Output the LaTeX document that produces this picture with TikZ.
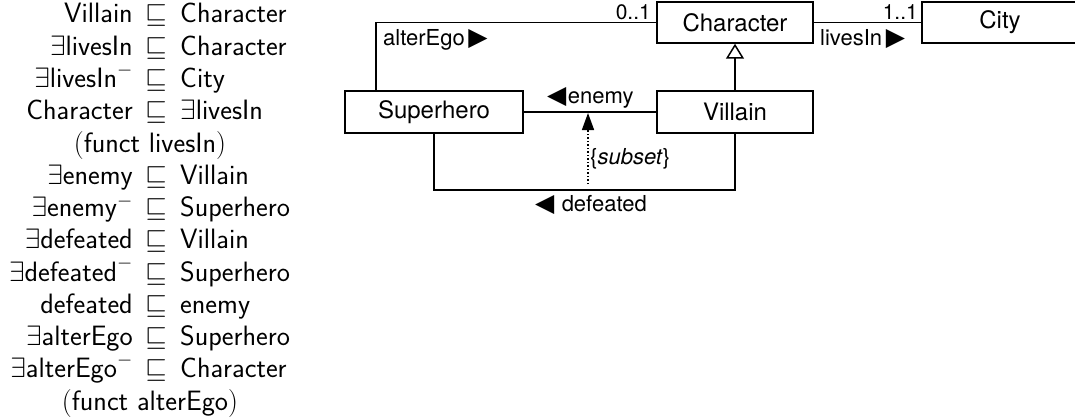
\RequirePackage{fix-cm}
\documentclass[tikz,border=0pt]{standalone}
\usepackage{fontspec}
\newfontfamily\hv{TeX Gyre Heros}
\newfontfamily\dv{DejaVu Sans}
\usetikzlibrary{arrows.meta}
\newcommand\rtri{{\dv\fontsize{25}{25}\selectfont ▶}}
\newcommand\ltri{{\dv\fontsize{25}{25}\selectfont ◀}}
\newcommand\axrow[4]{%
  \node[ax, anchor=base east] (l#1) at (133, {23+32.25*#1}) {$#2$#4};
  \node[ax, anchor=base] (s#1) at (156, {23+32.25*#1}) {$\sqsubseteq$};
  \node[ax, anchor=base west] (r#1) at (180, {23+32.25*#1}) {$#3$};
}
\newcommand\axmid[2]{%
  \node[ax, anchor=base] (m#1) at (150, {23+32.25*#1}) {(\textsf{#2})};
}
\begin{document}
\begin{tikzpicture}[x=1pt,y=-1pt,
  cls/.style={draw, line width=1.5pt, minimum height=41pt, inner sep=0pt, font=\hv\fontsize{24}{28}\selectfont},
  lab/.style={inner sep=0pt, font=\hv\fontsize{22}{26}\selectfont},
  mult/.style={inner sep=0pt, font=\hv\fontsize{21}{24}\selectfont},
  ax/.style={inner sep=0pt, text height=19pt, text depth=5pt, font=\fontsize{28}{32}\selectfont},
  conn/.style={line width=1.5pt}]
\useasboundingbox (0,0) rectangle (1075,417);

% ---- axioms ----
\axrow{0}{\mathsf{Villain}}{\mathsf{Character}}{}
\axrow{1}{\exists\mathsf{livesIn}}{\mathsf{Character}}{}
\axrow{2}{\exists\mathsf{livesIn}^-}{\mathsf{City}}{\hspace{10pt}}
\axrow{3}{\mathsf{Character}}{\exists\mathsf{livesIn}}{}
\axmid{4}{funct livesIn}
\axrow{5}{\exists\mathsf{enemy}}{\mathsf{Villain}}{}
\axrow{6}{\exists\mathsf{enemy}^-}{\mathsf{Superhero}}{\hspace{10pt}}
\axrow{7}{\exists\mathsf{defeated}}{\mathsf{Villain}}{}
\axrow{8}{\exists\mathsf{defeated}^-}{\mathsf{Superhero}}{\hspace{10pt}}
\axrow{9}{\mathsf{defeated}}{\mathsf{enemy}}{}
\axrow{10}{\exists\mathsf{alterEgo}}{\mathsf{Superhero}}{}
\axrow{11}{\exists\mathsf{alterEgo}^-}{\mathsf{Character}}{\hspace{10pt}}
\axmid{12}{funct alterEgo}

% ---- classes ----
\node[cls, minimum width=156pt] (ch) at (735,22.5) {Character};
\node[cls, minimum width=156pt] (city) at (1000,22.5) {City};
\node[cls, minimum width=178pt, minimum height=42pt] (sh) at (434,112) {Superhero};
\node[cls, minimum width=156pt, minimum height=42pt] (vil) at (735,112) {Villain};

% ---- connectors ----
\draw[conn] ([xshift=-58pt]sh.north) |- (ch.west);
\draw[conn] (ch.east) -- (city.west);
\draw[conn, -{Triangle[open, width=18pt, length=15pt]}] (vil.north) -- (ch.south);
\draw[conn] (sh.east) -- (vil.west);
\draw[conn] (sh.south) -- ++(0,56) -| (vil.south);
\coordinate (es) at (588,113);
\coordinate (ds) at (588,184);
\draw[line width=1.5pt, dash pattern=on 1.5pt off 2pt, -{Triangle[width=12pt, length=17pt]}] (ds) -- (es);

% ---- labels ----
\node[mult, anchor=base east] (m01) at (651,20) {0..1};
\node[mult, anchor=base east] (m11) at (918,20) {1..1};
\node[lab, anchor=base west] (lae) at (383,46) {alterEgo\,\rtri};
\node[lab, anchor=base west] (lli) at (820,46) {livesIn\,\rtri};
\node[lab, anchor=base west] (len) at (547,104) {\ltri\kern1.5pt enemy};
\node[lab, anchor=base west] (lsu) at (590,164) {\{\textit{subset}\}};
\node[lab, anchor=base west] (lde) at (535,211) {\ltri\,\,defeated};
\end{tikzpicture}
\end{document}
